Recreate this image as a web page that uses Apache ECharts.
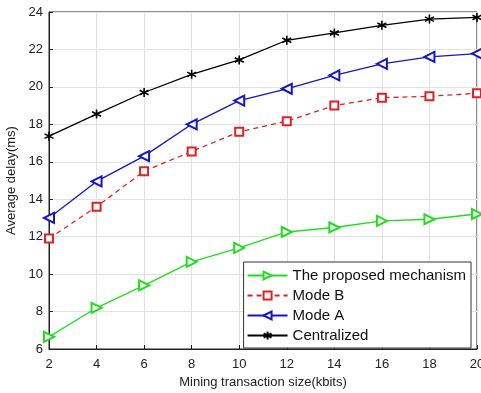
<!DOCTYPE html>
<html>
<head>
<meta charset="utf-8">
<script src="https://cdn.jsdelivr.net/npm/echarts@6/dist/echarts.min.js"></script>
<style>
  html, body { margin: 0; padding: 0; background: #fff; }
  #chart { width: 481px; height: 393px; }
</style>
</head>
<body>
<div id="chart"></div>
<script>
const sizes = [2, 4, 6, 8, 10, 12, 14, 16, 18, 20]
const proposed = [6.65, 8.2, 9.4, 10.65, 11.4, 12.25, 12.49, 12.84, 12.93, 13.21]
const modeB = [11.9, 13.6, 15.5, 16.55, 17.6, 18.17, 19.0, 19.42, 19.5, 19.66]
const modeA = [13.0, 14.95, 16.3, 18.0, 19.27, 19.9, 20.62, 21.23, 21.6, 21.78]
const centralized = [17.37, 18.55, 19.7, 20.67, 21.44, 22.49, 22.88, 23.29, 23.62, 23.71]
const yTicks = [6, 8, 10, 12, 14, 16, 18, 20, 22, 24]

const font = 'Arial, "Liberation Sans", sans-serif'
const star = 'path://M0,-5L0,5M-4.33,-2.5L4.33,2.5M-4.33,2.5L4.33,-2.5'

const pairs = (ys) => sizes.map((x, i) => [x, ys[i]])

function line(name, ys, color, symbol, opts = {}) {
  return {
    name,
    type: 'line',
    data: pairs(ys),
    symbol,
    symbolSize: opts.size || 10,
    symbolRotate: opts.rotate || 0,
    lineStyle: { color, width: 1.3, type: opts.dash ? [5, 4] : 'solid' },
    itemStyle: { color, borderColor: color, borderWidth: opts.bw || 1 },
    emphasis: { disabled: true },
    z: opts.z || 2
  }
}

const names = ['The proposed mechanism', 'Mode B', 'Mode A', 'Centralized']
const colors = ['#22dd22', '#dd2222', '#1515cc', '#000']

const chart = echarts.init(document.getElementById('chart'))
chart.setOption({
  animation: false,
  backgroundColor: '#fff',
  textStyle: { fontFamily: font },
  grid: { left: 49, right: 4, top: 12, bottom: 44, outerBoundsMode: 'none', show: true, borderColor: '#222', borderWidth: 1 },
  xAxis: {
    type: 'value',
    min: 2, max: 20, interval: 2,
    name: 'Mining transaction size(kbits)',
    nameLocation: 'middle', nameGap: 27,
    nameTextStyle: { fontSize: 13, color: '#222' },
    axisLine: { lineStyle: { color: '#222' } },
    axisTick: { inside: true, length: 4, lineStyle: { color: '#222' } },
    axisLabel: { fontSize: 13, color: '#222', margin: 9 },
    splitLine: { lineStyle: { color: '#e2e2e2' } }
  },
  yAxis: {
    type: 'value',
    min: yTicks[0], max: yTicks[yTicks.length - 1], interval: 2,
    name: 'Average delay(ms)',
    nameLocation: 'middle', nameGap: 30,
    nameTextStyle: { fontSize: 13, color: '#222' },
    axisLine: { show: true, lineStyle: { color: '#222' } },
    axisTick: { show: true, inside: true, length: 4, lineStyle: { color: '#222' } },
    axisLabel: { fontSize: 13, color: '#222', margin: 6 },
    splitLine: { lineStyle: { color: '#e2e2e2' } }
  },
  legend: {
    orient: 'vertical',
    right: 10, bottom: 45,
    padding: [6, 5, 5, 3],
    itemGap: 5,
    itemWidth: 40, itemHeight: 10,
    backgroundColor: '#fff',
    borderColor: '#333', borderWidth: 1,
    textStyle: { fontSize: 15, color: '#111', fontFamily: font },
    data: names
  },
  series: [
    line(names[0], proposed, colors[0], 'emptyTriangle', { rotate: -90 }),
    line(names[1], modeB, colors[1], 'emptyRect', { dash: true, size: 8 }),
    line(names[2], modeA, colors[2], 'emptyTriangle', { rotate: 90 }),
    line(names[3], centralized, colors[3], star, { size: 9, bw: 1.6 })
  ]
})
</script>
</body>
</html>
